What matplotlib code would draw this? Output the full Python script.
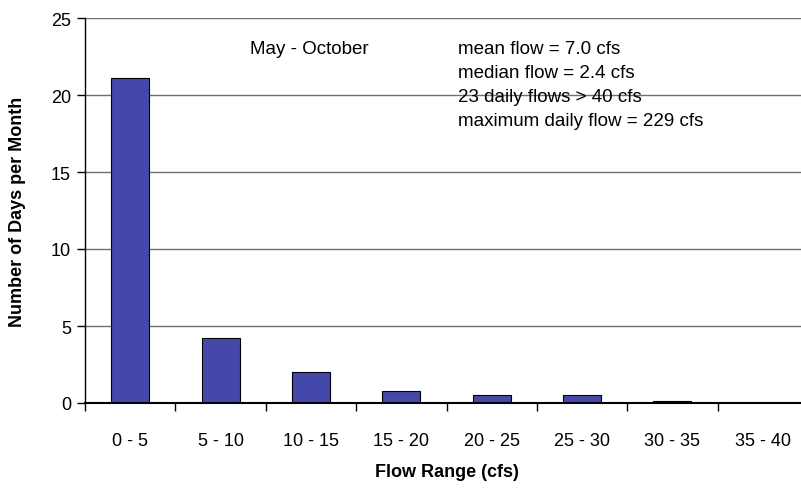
import matplotlib.pyplot as plt
import numpy as np

plt.rcParams['font.family'] = ['Liberation Sans', 'DejaVu Sans']

ranges = ['0 - 5', '5 - 10', '10 - 15', '15 - 20', '20 - 25', '25 - 30', '30 - 35', '35 - 40']
days = [21.1, 4.2, 2.0, 0.8, 0.55, 0.55, 0.1, 0.0]
stats = ['mean flow = 7.0 cfs', 'median flow = 2.4 cfs',
         '23 daily flows > 40 cfs', 'maximum daily flow = 229 cfs']

fig = plt.figure(figsize=(8.01, 4.89), dpi=100)
# plot area runs a little past the right edge, as in the original
ax = fig.add_axes([85 / 801, 1 - 404 / 489, 723 / 801, 385 / 489])

x = np.arange(len(ranges))
ax.bar(x, days, width=0.42, color='#4548a8', edgecolor='black', linewidth=0.8, zorder=3)

ax.set_xlim(-0.5, len(ranges) - 0.5)
ax.set_ylim(0, 25)
ax.set_yticks([0, 5, 10, 15, 20, 25])
ax.yaxis.grid(True, color='#707070', linewidth=1.0, zorder=0)
ax.set_xticks(np.arange(len(ranges) + 1) - 0.5)
ax.set_xticklabels([])
ax.set_xticks(x, minor=True)
ax.set_xticklabels(ranges, minor=True)
ax.tick_params(axis='x', which='major', length=6, direction='out', width=1)
ax.tick_params(axis='x', which='minor', length=0, pad=21, labelsize=13)
ax.tick_params(axis='y', length=6, direction='out', width=1, labelsize=13, pad=4)

for s in ['top', 'right']:
    ax.spines[s].set_visible(False)
ax.spines['left'].set_linewidth(1)
ax.spines['bottom'].set_linewidth(1.5)
ax.spines['bottom'].set_zorder(4)

ax.set_xlabel('Flow Range (cfs)', fontsize=13, fontweight='bold', labelpad=10)
ax.set_ylabel('Number of Days per Month', fontsize=13, fontweight='bold', labelpad=18)

fig.text(250 / 801, 1 - 50 / 489, 'May - October', fontsize=13.5, va='center', ha='left')
for i, line in enumerate(stats):
    fig.text(458 / 801, 1 - (50 + 24 * i) / 489, line, fontsize=13.5, va='center', ha='left')

fig.savefig('out.png', dpi=100)
